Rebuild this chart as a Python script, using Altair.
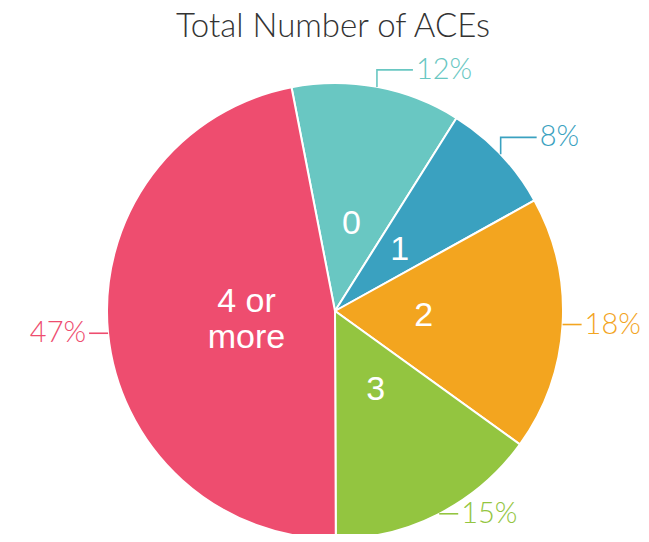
import math
import altair as alt
import pandas as pd

# ---------------- data ----------------
categories = ["0", "1", "2", "3", "4 or more"]
slice_labels = ["0", "1", "2", "3", "4 or\nmore"]
percents = [12, 8, 18, 15, 47]
colors = ["#69C7C2", "#3AA1C0", "#F3A51F", "#93C540", "#EE4D6F"]
chart_title = "Total Number of ACEs"

df = pd.DataFrame({
    "cat": categories,
    "inner": slice_labels,
    "pct": percents,
    "ord": list(range(len(categories))),
})

# ---------------- layout (pixels) ----------------
W, H = 633, 486
PAD_TOP = 40
R = 228
CX, CY = 327, 263
START = 2 * math.pi - math.radians(11.0)
R_IN = 0.39 * R
LH = 36
UP_TOP, H_TOP, H_SIDE, GAP = 17, 36, 19, 3

xs = alt.Scale(domain=[0, W], nice=False, zero=False)
ys = alt.Scale(domain=[0, H], nice=False, zero=False, reverse=True)
color = alt.Color("cat:N", scale=alt.Scale(domain=categories, range=colors), legend=None)

base = (
    alt.Chart(df)
    .transform_window(cum="sum(pct)", sort=[alt.SortField("ord")], frame=[None, 0])
    .transform_joinaggregate(total="sum(pct)")
    .transform_calculate(mid=f"{START} + 2*PI*(datum.cum - datum.pct/2)/datum.total")
    .transform_calculate(ex=f"{CX} + {R}*sin(datum.mid)")
    .transform_calculate(ey=f"{CY} - {R}*cos(datum.mid)")
    .transform_calculate(side="sin(datum.mid) >= 0 ? 1 : -1")
    .transform_calculate(istop="cos(datum.mid) > 0.5 ? 1 : 0")
)

arcs = alt.Chart(df).mark_arc(radius=R, stroke="white", strokeWidth=2).encode(
    theta=alt.Theta("pct:Q", stack=True,
                    scale=alt.Scale(range=[START, START + 2 * math.pi])),
    order=alt.Order("ord:Q"),
    color=color,
    x=alt.value(CX),
    y=alt.value(CY),
)

conn = (
    base.transform_calculate(step="[0, 1, 2]")
    .transform_flatten(["step"])
    .transform_calculate(
        px=f"datum.step < 2 ? datum.ex : datum.ex + datum.side*(datum.istop ? {H_TOP} : {H_SIDE})"
    )
    .transform_calculate(py=f"datum.step < 1 ? datum.ey : datum.ey - datum.istop*{UP_TOP}")
    .mark_line(strokeWidth=1.6)
    .encode(
        x=alt.X("px:Q", scale=xs, axis=None),
        y=alt.Y("py:Q", scale=ys, axis=None),
        detail="cat:N",
        order=alt.Order("step:Q"),
        color=color,
    )
)

inner = (
    base.transform_calculate(lines="split(datum.inner, '\\n')")
    .transform_calculate(ix=f"{CX} + {R_IN}*sin(datum.mid)")
    .transform_calculate(
        iy=f"{CY} - {R_IN}*cos(datum.mid) - (length(datum.lines) - 1)*{LH}/2"
    )
    .mark_text(font="Liberation Sans", fontSize=34, color="white", lineHeight=LH,
               align="center", baseline="middle")
    .encode(
        x=alt.X("ix:Q", scale=xs, axis=None),
        y=alt.Y("iy:Q", scale=ys, axis=None),
        text="lines:N",
    )
)

outer = (
    base.transform_calculate(
        lx=f"datum.ex + datum.side*((datum.istop ? {H_TOP} : {H_SIDE}) + {GAP})"
    )
    .transform_calculate(ly=f"datum.ey - datum.istop*{UP_TOP}")
    .transform_calculate(txt="datum.pct + '%'")
)


def outer_text(flt, align):
    return (
        outer.transform_filter(flt)
        .mark_text(align=align, baseline="middle", font="Lato", fontSize=29, fontWeight=300)
        .encode(
            x=alt.X("lx:Q", scale=xs, axis=None),
            y=alt.Y("ly:Q", scale=ys, axis=None),
            text="txt:N",
            color=color,
        )
    )


right = outer_text("datum.side > 0", "left")
left = outer_text("datum.side < 0", "right")

chart = (
    alt.layer(arcs, conn, inner, right, left)
    .properties(
        width=W,
        height=H,
        title=alt.Title(chart_title, fontSize=33, font="Lato", fontWeight=300, color="#333333",
                        anchor="middle", frame="group", offset=4, dx=8.5),
        padding={"top": PAD_TOP, "left": 0, "right": 0, "bottom": 0},
        autosize=alt.AutoSizeParams(type="none"),
    )
    .configure_view(stroke=None)
)

chart.save("out.html", embed_options={"renderer": "svg", "actions": False})
